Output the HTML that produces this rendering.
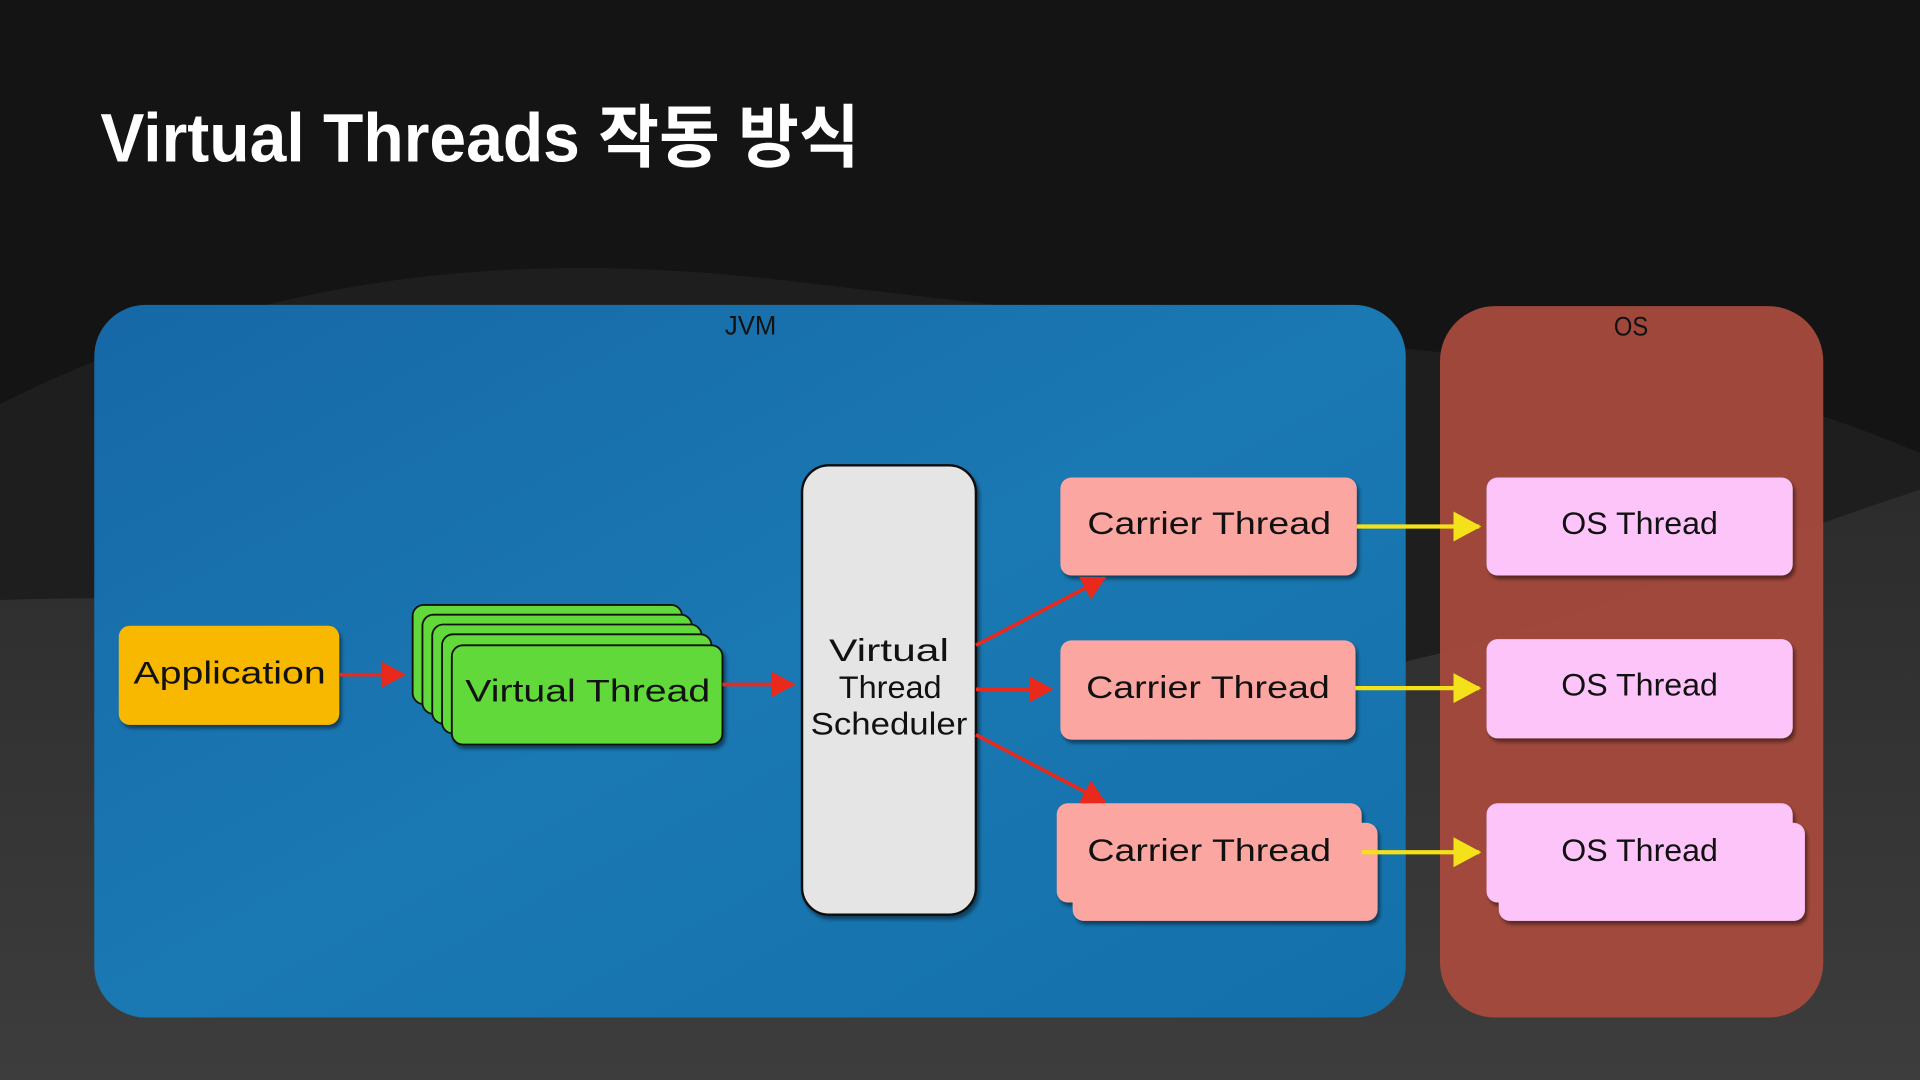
<!DOCTYPE html>
<html><head><meta charset="utf-8"><style>
html,body{margin:0;padding:0;background:#141414;overflow:hidden}
svg{display:block}
.t{font-family:"Liberation Sans Narrow","Liberation Sans",sans-serif;fill:#111}
</style></head><body>
<svg width="1920" height="1080" viewBox="0 0 1568 882" xmlns="http://www.w3.org/2000/svg">
<defs>
<linearGradient id="bg" x1="0" y1="0" x2="0" y2="1"><stop offset="0" stop-color="#2c2c2c"/><stop offset="1" stop-color="#3d3d3d"/></linearGradient>
<linearGradient id="jvm" x1="0" y1="0" x2="1" y2="1"><stop offset="0" stop-color="#1668a6"/><stop offset="0.5" stop-color="#1a78b2"/><stop offset="1" stop-color="#1470aa"/></linearGradient>
<filter id="sh" x="-10%" y="-10%" width="130%" height="130%"><feDropShadow dx="2" dy="3" stdDeviation="1.5" flood-color="#000" flood-opacity="0.45"/></filter>
<marker id="ar" markerWidth="8" markerHeight="8" refX="6" refY="4" orient="auto" markerUnits="strokeWidth"><path d="M0,0.5 L6.5,4 L0,7.5 Z" fill="#e8291c"/></marker>
<marker id="ay" markerWidth="8" markerHeight="8" refX="6" refY="4" orient="auto" markerUnits="strokeWidth"><path d="M0,0.5 L6.5,4 L0,7.5 Z" fill="#f5e11a"/></marker>
</defs>
<rect width="1568" height="882" fill="#141414"/>
<path d="M0,330 C200,230 400,200 650,230 C900,260 1100,280 1300,300 C1450,320 1520,350 1568,370 L1568,882 L0,882 Z" fill="#1e1e1e"/>
<path d="M0,490 C300,480 600,520 900,560 C1150,580 1350,470 1568,400 L1568,882 L0,882 Z" fill="url(#bg)"/>
<text x="82" y="132" font-family="'Liberation Sans','Noto Sans CJK KR',sans-serif" font-weight="bold" font-size="56" fill="#fff" textLength="620" lengthAdjust="spacingAndGlyphs">Virtual Threads 작동 방식</text>
<rect x="77" y="249" width="1071" height="582" rx="42" fill="url(#jvm)"/>
<text class="t" x="592" y="273" font-size="22" textLength="42" lengthAdjust="spacingAndGlyphs">JVM</text>
<rect x="1176" y="250" width="313" height="581" rx="45" fill="#a64a3c" opacity="0.95"/>
<text class="t" x="1318" y="274" font-size="22" textLength="28" lengthAdjust="spacingAndGlyphs">OS</text>
<rect x="97" y="511" width="180" height="81" rx="9" fill="#f9b800" filter="url(#sh)"/>
<text class="t" x="109" y="558" font-size="26" textLength="157" lengthAdjust="spacingAndGlyphs">Application</text>
<g stroke="#111" stroke-width="1.5" fill="#62d93a">
<rect x="337" y="494" width="220" height="81" rx="9"/>
<rect x="345" y="502" width="220" height="81" rx="9"/>
<rect x="353" y="510" width="220" height="81" rx="9"/>
<rect x="361" y="518" width="220" height="81" rx="9"/>
<rect x="369" y="527" width="221" height="81" rx="9" filter="url(#sh)"/>
</g>
<text class="t" x="380" y="573" font-size="26" textLength="200" lengthAdjust="spacingAndGlyphs">Virtual Thread</text>
<rect x="655" y="380" width="142" height="367" rx="22" fill="#e5e5e5" stroke="#111" stroke-width="2" filter="url(#sh)"/>
<g class="t" font-size="26">
<text x="677" y="540" textLength="98" lengthAdjust="spacingAndGlyphs">Virtual</text>
<text x="685" y="570" textLength="84" lengthAdjust="spacingAndGlyphs">Thread</text>
<text x="662" y="600" textLength="128" lengthAdjust="spacingAndGlyphs">Scheduler</text>
</g>
<g fill="#fca6a1" filter="url(#sh)">
<rect x="866" y="390" width="242" height="80" rx="9"/>
<rect x="866" y="523" width="241" height="81" rx="9"/>
<rect x="876" y="672" width="249" height="80" rx="9"/>
<rect x="863" y="656" width="249" height="81" rx="9"/>
</g>
<g class="t" font-size="26">
<text x="888" y="436" textLength="199" lengthAdjust="spacingAndGlyphs">Carrier Thread</text>
<text x="887" y="570" textLength="199" lengthAdjust="spacingAndGlyphs">Carrier Thread</text>
<text x="888" y="703" textLength="199" lengthAdjust="spacingAndGlyphs">Carrier Thread</text>
</g>
<g fill="#fdc4fa" filter="url(#sh)">
<rect x="1214" y="390" width="250" height="80" rx="9"/>
<rect x="1214" y="522" width="250" height="81" rx="9"/>
<rect x="1224" y="672" width="250" height="80" rx="9"/>
<rect x="1214" y="656" width="250" height="81" rx="9"/>
</g>
<g class="t" font-size="26">
<text x="1275" y="436" textLength="128" lengthAdjust="spacingAndGlyphs">OS Thread</text>
<text x="1275" y="568" textLength="128" lengthAdjust="spacingAndGlyphs">OS Thread</text>
<text x="1275" y="703" textLength="128" lengthAdjust="spacingAndGlyphs">OS Thread</text>
</g>
<g stroke="#e8291c" stroke-width="3" fill="none" marker-end="url(#ar)">
<line x1="277" y1="551" x2="330" y2="551"/>
<line x1="590" y1="559" x2="648" y2="559"/>
<line x1="797" y1="527" x2="902" y2="472"/>
<line x1="797" y1="563" x2="859" y2="563"/>
<line x1="797" y1="600" x2="902" y2="655"/>
</g>
<g stroke="#f5e11a" stroke-width="3.5" fill="none" marker-end="url(#ay)">
<line x1="1108" y1="430" x2="1208" y2="430"/>
<line x1="1107" y1="562" x2="1208" y2="562"/>
<line x1="1112" y1="696" x2="1208" y2="696"/>
</g>
</svg>
</body></html>
